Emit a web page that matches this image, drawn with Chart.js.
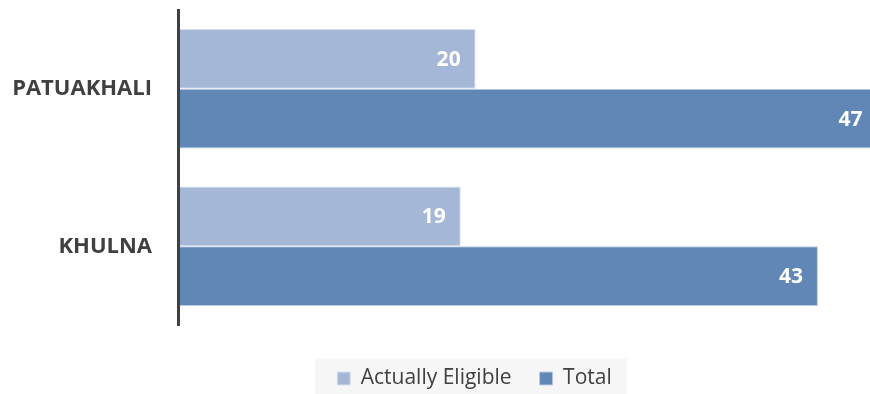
<!DOCTYPE html>
<html>
<head>
<meta charset="utf-8">
<script src="https://cdn.jsdelivr.net/npm/chart.js@4/dist/chart.umd.min.js"></script>
<style>
  html,body{margin:0;padding:0;background:#fff;}
  #wrap{width:870px;height:394px;position:relative;}
</style>
</head>
<body>
<div id="wrap"><canvas id="chart"></canvas></div>
<script>
const districts=["PATUAKHALI","KHULNA"];
const eligible=[20,19];
const total=[47,43];

const FONT="'Open Sans', sans-serif";

// value labels drawn inside the end of each bar
const barLabels={
  id:"barLabels",
  afterDatasetsDraw(chart){
    const ctx=chart.ctx;
    ctx.save();
    ctx.font="bold 21px "+FONT;
    ctx.fillStyle="#fff";
    ctx.textAlign="right";
    ctx.textBaseline="middle";
    chart.data.datasets.forEach((ds,i)=>{
      chart.getDatasetMeta(i).data.forEach((bar,j)=>{
        ctx.fillText(ds.data[j],bar.x-15,bar.y+1);
      });
    });
    ctx.restore();
  }
};

// legend sits a bit right of the page centre, on a grey panel
const legendPanel={
  id:"legendPanel",
  afterLayout(chart){
    const lg=chart.legend;
    if(!lg)return;
    lg.left+=79;
    lg.top+=5;
    lg.bottom+=5;
  },
  beforeDraw(chart){
    const lg=chart.legend;
    if(!lg||!lg.legendHitBoxes.length)return;
    const boxes=lg.legendHitBoxes;
    const first=boxes[0],last=boxes[boxes.length-1];
    const cy=first.top+first.height/2;
    const x0=first.left-22,x1=last.left+last.width+15;
    const ctx=chart.ctx;
    ctx.save();
    ctx.fillStyle="#f6f6f6";
    ctx.fillRect(x0,cy-20,x1-x0,40);
    ctx.restore();
  }
};

new Chart(document.getElementById("chart"),{
  type:"bar",
  data:{
    labels:districts,
    datasets:[
      {label:"Actually Eligible",data:eligible,backgroundColor:"#a5b7d7",borderColor:"#d6e0ee",borderWidth:1,borderSkipped:false},
      {label:"Total",data:total,backgroundColor:"#6087b5",borderColor:"#b9cbe2",borderWidth:1,borderSkipped:false}
    ]
  },
  options:{
    indexAxis:"y",
    responsive:true,
    maintainAspectRatio:false,
    animation:false,
    layout:{padding:{top:10,right:0,left:0,bottom:0}},
    datasets:{bar:{categoryPercentage:0.76,barPercentage:1}},
    scales:{
      x:{
        min:0,max:46.5,
        grid:{display:false},
        border:{display:false},
        ticks:{display:false},
        afterFit(s){s.height=10;}
      },
      y:{
        grid:{display:false,drawTicks:false},
        border:{display:true,color:"#404040",width:3,z:1},
        ticks:{color:"#404040",font:{family:FONT,size:22,weight:"bold"},padding:26},
        afterFit(s){s.width=178;s.paddingTop=0;s.paddingBottom=0;}
      }
    },
    plugins:{
      tooltip:{enabled:false},
      legend:{
        position:"bottom",
        labels:{
          color:"#404040",
          font:{family:FONT,size:21},
          boxWidth:13,boxHeight:13,
          padding:28
        }
      }
    }
  },
  plugins:[legendPanel,barLabels]
});
</script>
</body>
</html>
